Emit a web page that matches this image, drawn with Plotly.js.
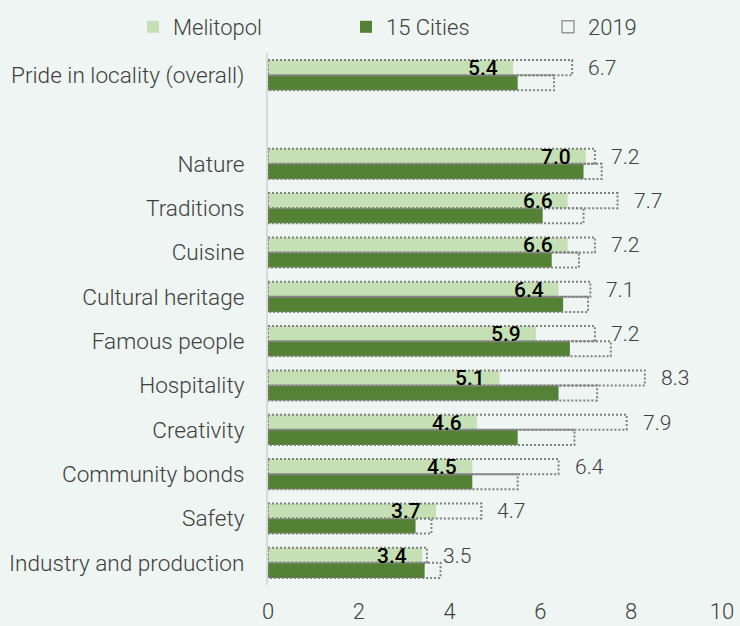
<!DOCTYPE html>
<html>
<head>
<meta charset="utf-8">
<script src="https://cdn.plot.ly/plotly-3.0.1.min.js"></script>
<style>
  html, body { margin: 0; padding: 0; background: #EEF5F2; }
  #chart { width: 740px; height: 626px; }
</style>
</head>
<body>
<div id="chart"></div>
<script>
// ---- data ----
const categories = [
  "Pride in locality (overall)",
  "Nature",
  "Traditions",
  "Cuisine",
  "Cultural heritage",
  "Famous people",
  "Hospitality",
  "Creativity",
  "Community bonds",
  "Safety",
  "Industry and production"
];
const melitopol      = [5.4, 7.0, 6.6, 6.6, 6.4, 5.9, 5.1, 4.6, 4.5, 3.7, 3.4];
const cities15       = [5.5, 6.95, 6.05, 6.25, 6.5, 6.65, 6.4, 5.5, 4.5, 3.25, 3.45];
const melitopol2019  = [6.7, 7.2, 7.7, 7.2, 7.1, 7.2, 8.3, 7.9, 6.4, 4.7, 3.5];
const cities15_2019  = [6.3, 7.35, 6.95, 6.85, 7.05, 7.55, 7.25, 6.75, 5.5, 3.6, 3.8];
const xTicks = [0, 2, 4, 6, 8, 10];

// ---- layout helpers ----
const SPACER = " ";
const axisOrder = [categories[0], SPACER].concat(categories.slice(1));
const pos = c => axisOrder.indexOf(c);
const BARGAP = 0.32;
const W = (1 - BARGAP) / 2;   // width of one bar in category units

const FONT = "Roboto, 'Noto Sans', sans-serif";
const LIGHT = "#C5E0B4", DARK = "#548235", DOT = "#808080", TXT = "#404040";

const traces = [
  { type: "bar", orientation: "h", name: "Melitopol", y: categories, x: melitopol,
    offsetgroup: "a", marker: { color: LIGHT }, legend: "legend" },
  { type: "bar", orientation: "h", name: "15 Cities", y: categories, x: cities15,
    offsetgroup: "b", marker: { color: DARK }, legend: "legend2" },
  { type: "bar", orientation: "h", name: "2019", y: [null], x: [null],
    offsetgroup: "a", marker: { color: "rgba(0,0,0,0)", line: { color: "#9a9a9a", width: 1.5 } },
    legend: "legend3" }
];

const shapes = [];
categories.forEach((c, i) => {
  const p = pos(c);
  shapes.push({ type: "rect", xref: "x", yref: "y", x0: 0, x1: melitopol2019[i], y0: p - W, y1: p,
    line: { color: DOT, width: 2, dash: "2px,2px" }, fillcolor: "rgba(0,0,0,0)", layer: "above" });
  shapes.push({ type: "rect", xref: "x", yref: "y", x0: 0, x1: cities15_2019[i], y0: p, y1: p + W,
    line: { color: DOT, width: 2, dash: "2px,2px" }, fillcolor: "rgba(0,0,0,0)", layer: "above" });
});

const annotations = [];
categories.forEach((c, i) => {
  const p = pos(c);
  annotations.push({ xref: "x", yref: "y", x: melitopol[i], y: p - W / 2, text: melitopol[i].toFixed(1),
    showarrow: false, xanchor: "right", yanchor: "middle", xshift: -13, yshift: -0.5,
    font: { family: FONT, size: 21, color: "#000000", weight: 500 } });
  annotations.push({ xref: "x", yref: "y", x: melitopol2019[i], y: p - W / 2, text: melitopol2019[i].toFixed(1),
    showarrow: false, xanchor: "left", yanchor: "middle", xshift: 14, yshift: -0.5,
    font: { family: FONT, size: 21, color: TXT, weight: 300 } });
});

function legendAt(px) {
  return { orientation: "h", xref: "container", yref: "container", x: px / 740, y: 1 - 27 / 626,
    xanchor: "left", yanchor: "middle", bgcolor: "rgba(0,0,0,0)", itemwidth: 30,
    font: { family: FONT, size: 22, color: TXT, weight: 300 } };
}

const layout = {
  width: 740, height: 626,
  margin: { l: 268, r: 18, t: 53, b: 41, pad: 0, autoexpand: false },
  paper_bgcolor: "#EEF5F2", plot_bgcolor: "#EEF5F2",
  font: { family: FONT, size: 22, color: TXT, weight: 300 },
  barmode: "group", bargap: BARGAP, bargroupgap: 0,
  showlegend: true,
  legend: legendAt(133),
  legend2: legendAt(346),
  legend3: legendAt(548),
  xaxis: { range: [0, 10], tickvals: xTicks, ticktext: xTicks.map(String), showgrid: false,
    zeroline: false, showline: false, ticks: "", ticklabelstandoff: 11, automargin: false,
    tickfont: { family: FONT, size: 22, color: TXT, weight: 300 } },
  yaxis: { type: "category", categoryorder: "array", categoryarray: axisOrder,
    range: [axisOrder.length - 0.5, -0.5], showgrid: false, zeroline: false, automargin: false,
    showline: true, linecolor: "#D9D9D9", linewidth: 2, ticks: "", ticklabelstandoff: 17,
    tickfont: { family: FONT, size: 22.6, color: TXT, weight: 300 } },
  shapes: shapes,
  annotations: annotations
};

Plotly.newPlot("chart", traces, layout, { displayModeBar: false, staticPlot: true });
</script>
</body>
</html>
